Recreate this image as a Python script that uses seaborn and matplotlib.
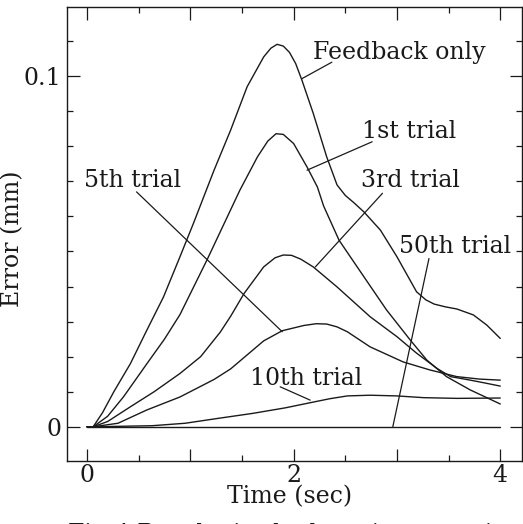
import matplotlib
matplotlib.use("Agg")
import matplotlib.pyplot as plt
import seaborn as sns
import pandas as pd
from matplotlib.ticker import MultipleLocator, FixedLocator

# ---------------- data ----------------
t_fb = [0, 0.06, 0.15, 0.26, 0.42, 0.58, 0.74, 0.90, 1.03, 1.23, 1.39, 1.55, 1.71, 1.78, 1.84, 1.90,
        1.96, 2.02, 2.08, 2.19, 2.32, 2.42, 2.50, 2.58, 2.68, 2.84, 3.0, 3.19, 3.28, 3.36, 3.47, 3.58,
        3.74, 3.87, 4.0]
y_fb = [0, 0, 0.004, 0.010, 0.018, 0.0276, 0.037, 0.0485, 0.058, 0.0732, 0.0846, 0.097, 0.1055, 0.1080,
        0.1091, 0.1086, 0.1068, 0.1036, 0.0989, 0.0894, 0.077, 0.0690, 0.0660, 0.0640, 0.0613, 0.0561,
        0.0485, 0.0385, 0.0362, 0.0350, 0.0342, 0.0336, 0.0319, 0.029, 0.0252]

t_1st = [0, 0.06, 0.2, 0.355, 0.58, 0.75, 0.90, 1.16, 1.32, 1.48, 1.65, 1.75, 1.83, 1.90, 2.0,
         2.13, 2.23, 2.29, 2.44, 2.68, 2.90, 3.13, 3.29, 3.48, 3.71, 4.0]
y_1st = [0, 0, 0.003, 0.0086, 0.018, 0.025, 0.032, 0.0475, 0.0575, 0.0675, 0.077, 0.0815, 0.0836,
         0.0834, 0.0808, 0.0741, 0.0684, 0.063, 0.0532, 0.0428, 0.0333, 0.0247, 0.019, 0.0143,
         0.0105, 0.0065]

t_3rd = [0, 0.06, 0.2, 0.42, 0.65, 0.90, 1.10, 1.29, 1.39, 1.52, 1.71, 1.82, 1.90, 1.98, 2.07,
         2.19, 2.42, 2.74, 3.0, 3.19, 3.39, 3.52, 3.71, 3.85, 4.0]
y_3rd = [0, 0, 0.0015, 0.0057, 0.010, 0.0152, 0.020, 0.027, 0.0315, 0.038, 0.0456, 0.0482, 0.0490,
         0.0489, 0.0478, 0.0456, 0.0399, 0.0314, 0.0257, 0.021, 0.0166, 0.0143, 0.0133, 0.0125, 0.0116]

t_5th = [0, 0.06, 0.3, 0.58, 0.9, 1.23, 1.39, 1.55, 1.71, 1.89, 2.10, 2.22, 2.32, 2.42, 2.52,
         2.74, 3.06, 3.32, 3.58, 3.8, 4.0]
y_5th = [0, 0, 0.001, 0.0048, 0.0085, 0.0135, 0.0165, 0.0205, 0.0245, 0.0274, 0.0289, 0.0294,
         0.0293, 0.0285, 0.0271, 0.0228, 0.0185, 0.0162, 0.0143, 0.0136, 0.0133]

t_10th = [0, 0.08, 0.63, 0.95, 1.27, 1.6, 1.92, 2.15, 2.35, 2.52, 2.74, 3.0, 3.26, 3.58, 4.0]
y_10th = [0, 0, 0.0003, 0.001, 0.0024, 0.0038, 0.0054, 0.0068, 0.0080, 0.0088, 0.009, 0.0088,
          0.0083, 0.0081, 0.0082]

t_50th = [0, 4.0]
y_50th = [0, 0]

series = [
    ("Feedback only", t_fb, y_fb),
    ("1st trial", t_1st, y_1st),
    ("3rd trial", t_3rd, y_3rd),
    ("5th trial", t_5th, y_5th),
    ("10th trial", t_10th, y_10th),
    ("50th trial", t_50th, y_50th),
]

x_ticks = [0, 1, 2, 3, 4]
x_ticklabels = ["0", "", "2", "", "4"]
y_ticks = [0, 0.1]
y_ticklabels = ["0", "0.1"]

# ---------------- style ----------------
sns.set_style("ticks")
plt.rcParams["font.family"] = ["DejaVu Serif"]
FS = 17
plt.rcParams["font.size"] = FS

INK = "#1a1a1a"

frames = []
for name, t, y in series:
    frames.append(pd.DataFrame({"t": t, "y": y, "trial": name}))
df = pd.concat(frames, ignore_index=True)

fig = plt.figure(figsize=(5.23, 5.24), dpi=100)
ax = fig.add_axes([0.128, 0.120, 0.870, 0.867])

sns.lineplot(data=df, x="t", y="y", units="trial", estimator=None, sort=False,
             color=INK, linewidth=1.0, ax=ax, legend=False)

ax.set_xlim(-0.194, 4.21)
ax.set_ylim(-0.0098, 0.1198)

ax.set_xticks(x_ticks)
ax.set_xticklabels(x_ticklabels)
ax.xaxis.set_minor_locator(FixedLocator([0.5, 1.5, 2.5, 3.5]))
ax.set_yticks(y_ticks)
ax.set_yticklabels(y_ticklabels)
ax.yaxis.set_minor_locator(MultipleLocator(0.01))

ax.tick_params(which="both", direction="in", top=True, right=True, color=INK, width=0.9,
               labelsize=FS, labelcolor=INK)
ax.tick_params(which="major", length=9)
ax.tick_params(axis="x", which="major", pad=2)
ax.tick_params(axis="y", which="major", pad=4)
ax.tick_params(which="minor", length=4)

for s in ax.spines.values():
    s.set_color(INK)
    s.set_linewidth(1.0)

ax.set_xlabel("Time (sec)", fontsize=FS, color=INK)
ax.xaxis.set_label_coords(0.49, -0.052)
ax.set_ylabel("Error (mm)", fontsize=FS, color=INK)
ax.yaxis.set_label_coords(-0.094, 0.49)

# ---------------- labels with leader lines ----------------
labels = [
    ("Feedback only", (2.08, 0.0993), (2.37, 0.104), (2.19, 0.1068)),
    ("1st trial", (2.13, 0.0732), (2.76, 0.0813), (2.66, 0.0841)),
    ("3rd trial", (2.21, 0.0456), (2.86, 0.0666), (2.65, 0.0703)),
    ("5th trial", (1.89, 0.0271), (0.48, 0.067), (-0.03, 0.0703)),
    ("50th trial", (2.96, 0.0), (3.31, 0.048), (3.02, 0.0513)),
    ("10th trial", (2.16, 0.0076), (1.87, 0.0114), (1.58, 0.0138)),
]
for text, p0, p1, tp in labels:
    ax.annotate("", xy=p0, xytext=p1,
                arrowprops=dict(arrowstyle="-", color=INK, lw=0.9, shrinkA=0, shrinkB=0))
    ax.text(tp[0], tp[1], text, ha="left", va="center", fontsize=FS, color=INK)

fig.text(0.13, -0.02, "Fig.4 Results in the learning experiments", fontsize=FS,
         color=INK, ha="left", va="center")

fig.savefig("out.png", dpi=100)
